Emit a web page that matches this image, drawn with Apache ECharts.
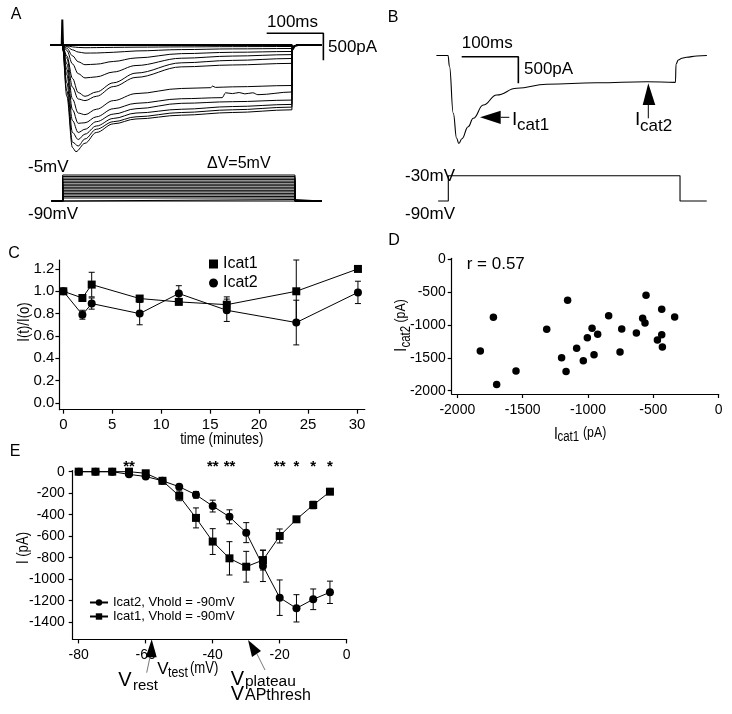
<!DOCTYPE html>
<html>
<head>
<meta charset="utf-8">
<script src="https://cdn.jsdelivr.net/npm/echarts@6/dist/echarts.min.js"></script>
<style>html,body{margin:0;padding:0;background:#fff}#main{width:732px;height:714px}</style>
</head>
<body>
<div id="main"></div>
<script>
// ---- panel A : current family (t in ms from step onset, I in pA) ----
var aLead = [[-21, 0]];
var aTail = [[405.5, -60], [409, -15], [415, 0], [457, 0]];
var aBaseline = [[-21, 0], [-1, 0], [0, 470], [1.5, -100], [3, 0], [405, 0], [406, -90], [410, -20], [416, 0], [457, 0]];
var aTraces = [
  [[0,0],[8,-15],[18,-35],[28,-45],[40,-50],[60,-48],[90,-44],[130,-40],[210,-35],[300,-30],[405,-28]],
  [[0,0],[8,-30],[18,-90],[28,-130],[40,-150],[60,-148],[90,-135],[130,-110],[210,-85],[300,-72],[405,-65]],
  [[0,0],[8,-60],[18,-200],[28,-310],[40,-365],[60,-355],[90,-305],[130,-240],[210,-160],[300,-135],[405,-120]],
  [[0,0],[8,-100],[18,-350],[28,-530],[40,-610],[60,-590],[90,-500],[130,-380],[210,-245],[300,-205],[405,-178]],
  [[0,0],[8,-200],[18,-620],[28,-880],[40,-950],[60,-870],[90,-700],[130,-520],[210,-330],[300,-285],[405,-250]],
  [[0,0],[8,-250],[18,-780],[28,-1000],[40,-1030],[60,-950],[90,-770],[130,-600],[210,-405],[300,-370],[405,-340]],
  [[0,0],[8,-350],[18,-1000],[28,-1260],[40,-1290],[60,-1190],[90,-1030],[130,-900],[210,-805],[262,-790],[265,-760],[270,-785],[300,-775],[405,-750]],
  [[0,0],[8,-450],[18,-1200],[28,-1450],[40,-1440],[60,-1330],[90,-1180],[130,-1080],[210,-995],[282,-975],[288,-885],[300,-900],[312,-880],[322,-905],[336,-885],[345,-920],[405,-870]],
  [[0,0],[8,-550],[18,-1400],[28,-1620],[40,-1560],[60,-1420],[90,-1280],[130,-1180],[210,-1080],[300,-1050],[405,-1020]],
  [[0,0],[8,-700],[18,-1620],[28,-1750],[40,-1650],[60,-1500],[90,-1360],[130,-1260],[210,-1190],[300,-1140],[405,-1100]],
  [[0,0],[8,-850],[18,-1800],[28,-1870],[40,-1740],[60,-1560],[90,-1420],[130,-1330],[210,-1250],[300,-1200],[405,-1150]],
  [[0,0],[8,-950],[18,-1900],[24,-1975],[40,-1820],[60,-1620],[90,-1460],[130,-1370],[210,-1300],[300,-1250],[405,-1200]]
];
var aScaleBar = [[360.5, 217], [460.5, 217], [460.5, -283]];
// voltage protocol A (mV)
var aVSteps = [-90,-85,-80,-75,-70,-65,-60,-55,-50,-45,-40,-35,-30,-25,-20,-15,-10,-5];
var aVOn = 0.7, aVOff = 410.4, aVStart = -18.7, aVEnd = 457.5, aVHold = -90;

// ---- panel B ----
var bTime = [-21, -0.5, 2, 8.8, 14.7, 18.5, 24, 35, 44, 61.7, 85.3, 120.6, 173.5, 261.6, 349.8, 400.5, 401.6, 405.6, 412, 420, 438, 456];
var bCurrent = [0, 0, -200, -1085, -1553, -1650, -1560, -1335, -1178, -929, -741, -615, -540, -510, -491, -503, -160, -84, -50, -34, -9, 0];
var bScaleBar = [[23.6, -22], [123.5, -22], [123.5, -522]];
var bVolt = [[-18, -90], [0, -90], [0, -30], [408.6, -30], [408.6, -90], [455.7, -90]];

// ---- panel C ----
var cTime = [0, 1.95, 2.9, 7.8, 11.8, 16.7, 23.8, 30.1];
var cIcat1 = [1.0, 0.94, 1.06, 0.935, 0.905, 0.88, 1.0, 1.2];
var cIcat1Err = [0, 0.02, 0.11, 0.02, 0.02, 0.07, 0.28, 0.01];
var cIcat2 = [1.0, 0.79, 0.89, 0.80, 0.98, 0.83, 0.72, 0.99];
var cIcat2Err = [0, 0.04, 0.05, 0.10, 0.07, 0.10, 0.20, 0.10];
var cXTicks = [0, 5, 10, 15, 20, 25, 30];
var cYTicks = [0, 0.2, 0.4, 0.6, 0.8, 1.0, 1.2];

// ---- panel D ----
var dIcat1 = [-1824,-1724,-1699,-1551,-1316,-1202,-1168,-1156,-1087,-1036,-1005,-969,-954,-926,-842,-755,-742,-630,-582,-564,-556,-469,-436,-436,-431,-337];
var dIcat2 = [-1396,-883,-1904,-1700,-1066,-1497,-1706,-624,-1355,-1543,-1193,-1051,-1452,-1142,-858,-1411,-1061,-1122,-898,-970,-548,-1228,-761,-1147,-1335,-878];
var dXTicks = [-2000, -1500, -1000, -500, 0];
var dYTicks = [0, -500, -1000, -1500, -2000];

// ---- panel E ----
var eVtest = [-80,-75,-70,-65,-60,-55,-50,-45,-40,-35,-30,-25,-20,-15,-10,-5];
var eIcat1 = [0,0,0,0,-15,-85,-225,-430,-650,-806,-884,-822,-598,-443,-310,-186];
var eIcat1Err = [0,0,0,0,8,10,45,93,120,155,143,93,65,10,35,10];
var eIcat2 = [0,0,0,-25,-45,-85,-140,-215,-320,-420,-567,-877,-1172,-1271,-1187,-1122];
var eIcat2Err = [0,0,0,5,8,10,12,31,55,65,93,145,165,127,96,104];
var eSigX = [-65, -40, -35, -20, -15, -10, -5];
var eSigMark = ['**', '**', '**', '**', '*', '*', '*'];
var eXTicks = [-80, -60, -40, -20, 0];
var eYTicks = [0, -200, -400, -600, -800, -1000, -1200, -1400];

var F = "'Liberation Sans', Arial, sans-serif";
var NARROW = 0.82;   // squeeze for the condensed lettering

function zip(xs, ys) { return xs.map(function (x, i) { return [x, ys[i]]; }); }

function hiddenAxis(gi, min, max) {
  return { gridIndex: gi, type: 'value', min: min, max: max, show: false };
}
function visAxis(gi, min, max, ticks, margin, size, fmt) {
  return {
    gridIndex: gi, type: 'value', min: min, max: max,
    splitLine: { show: false },
    axisLine: { show: true, onZero: false, lineStyle: { color: '#000', width: 1.2 } },
    axisTick: { show: true, length: 4, customValues: ticks, lineStyle: { color: '#000', width: 1.2 } },
    axisLabel: { customValues: ticks, margin: margin, color: '#000', fontSize: size, fontFamily: F, formatter: fmt }
  };
}
function plain(v) { return String(v); }

function errorBars(gi, xs, ys, es, capW) {
  var data = [];
  xs.forEach(function (x, i) { if (es[i] > 0) data.push([x, ys[i] - es[i], ys[i] + es[i]]); });
  return {
    type: 'custom', xAxisIndex: gi, yAxisIndex: gi, data: data, silent: true, z: 1,
    encode: { x: 0, y: [1, 2] },
    renderItem: function (params, api) {
      var lo = api.coord([api.value(0), api.value(1)]);
      var hi = api.coord([api.value(0), api.value(2)]);
      var w = capW / 2, st = { stroke: '#000', lineWidth: 1 };
      return { type: 'group', children: [
        { type: 'line', shape: { x1: lo[0], y1: lo[1], x2: hi[0], y2: hi[1] }, style: st },
        { type: 'line', shape: { x1: lo[0] - w, y1: lo[1], x2: lo[0] + w, y2: lo[1] }, style: st },
        { type: 'line', shape: { x1: hi[0] - w, y1: hi[1], x2: hi[0] + w, y2: hi[1] }, style: st }
      ] };
    }
  };
}

var grids = [
  { left: 50.96, top: 18, width: 277.8, height: 137.7 },
  { left: 50.96, top: 173.5, width: 277.8, height: 30.6 },
  { left: 436.4, top: 28.85, width: 270.5, height: 117.3 },
  { left: 436.4, top: 171.5, width: 270.5, height: 33.7 },
  { left: 59.4, top: 260, width: 305.4, height: 149.7 },
  { left: 451.7, top: 258.3, width: 267, height: 135.7 },
  { left: 72.7, top: 470.6, width: 274, height: 168.8 }
];
grids.forEach(function (g) { g.outerBoundsMode = 'none'; g.containLabel = false; });

var xAxes = [
  hiddenAxis(0, -20, 470), hiddenAxis(1, -20, 470),
  hiddenAxis(2, -21, 456), hiddenAxis(3, -21, 456),
  visAxis(4, -0.4, 30.8, cXTicks, 8, 15, plain),
  visAxis(5, -2043, 0, dXTicks, 9, 14, plain),
  visAxis(6, -81.8, 0, eXTicks, 9, 14, plain)
];
var yAxes = [
  hiddenAxis(0, -2050, 500), hiddenAxis(1, -100, 0),
  hiddenAxis(2, -1700, 500), hiddenAxis(3, -100, -20),
  visAxis(4, -0.06, 1.28, cYTicks, 5, 15, function (v) { return v.toFixed(1); }),
  visAxis(5, -2050, 15, dYTicks, 6, 14, plain),
  visAxis(6, -1560, 10, eYTicks, 8, 14, plain)
];

var series = [];
function trace(gi, data, width, smooth) {
  return { type: 'line', xAxisIndex: gi, yAxisIndex: gi, data: data, symbol: 'none', silent: true,
    smooth: smooth || false, smoothMonotone: 'x', lineStyle: { color: '#000', width: width || 1 } };
}
// A
series.push(trace(0, aBaseline, 2));
aTraces.forEach(function (tr) { series.push(trace(0, aLead.concat(tr, aTail), 1, 0.35)); });
series.push(trace(0, aScaleBar, 1.6));
aVSteps.forEach(function (v) {
  series.push(trace(1, [[aVStart, aVHold], [aVOn, aVHold], [aVOn, v], [aVOff, v], [aVOff, aVHold], [aVEnd, aVHold]], 1));
});
// B
series.push(trace(2, zip(bTime, bCurrent), 1.1, 0.45));
series.push(trace(2, bScaleBar, 1.6));
series.push(trace(3, bVolt, 1.1));
// C
series.push(errorBars(4, cTime, cIcat1, cIcat1Err, 6));
series.push(errorBars(4, cTime, cIcat2, cIcat2Err, 6));
series.push({ name: 'Icat1', type: 'line', xAxisIndex: 4, yAxisIndex: 4, data: zip(cTime, cIcat1),
  symbol: 'rect', symbolSize: 8, itemStyle: { color: '#000' }, lineStyle: { color: '#000', width: 1 } });
series.push({ name: 'Icat2', type: 'line', xAxisIndex: 4, yAxisIndex: 4, data: zip(cTime, cIcat2),
  symbol: 'circle', symbolSize: 8, itemStyle: { color: '#000' }, lineStyle: { color: '#000', width: 1 } });
// D
series.push({ type: 'scatter', xAxisIndex: 5, yAxisIndex: 5, data: zip(dIcat1, dIcat2),
  symbol: 'circle', symbolSize: 7.5, itemStyle: { color: '#000', opacity: 1 } });
// E
series.push(errorBars(6, eVtest, eIcat2, eIcat2Err, 6));
series.push(errorBars(6, eVtest, eIcat1, eIcat1Err, 6));
series.push({ name: 'Icat2, Vhold = -90mV', type: 'line', xAxisIndex: 6, yAxisIndex: 6, data: zip(eVtest, eIcat2),
  symbol: 'circle', symbolSize: 8, itemStyle: { color: '#000' }, lineStyle: { color: '#000', width: 1 } });
series.push({ name: 'Icat1, Vhold = -90mV', type: 'line', xAxisIndex: 6, yAxisIndex: 6, data: zip(eVtest, eIcat1),
  symbol: 'rect', symbolSize: 8, itemStyle: { color: '#000' }, lineStyle: { color: '#000', width: 1 } });
series.push({ type: 'scatter', xAxisIndex: 6, yAxisIndex: 6, clip: false, symbolSize: 0, silent: true,
  itemStyle: { opacity: 1 },
  data: eSigX.map(function (x, i) { return { value: [x, 45], label: { formatter: eSigMark[i] } }; }),
  label: { show: true, position: 'inside', fontSize: 15, fontWeight: 'bold', color: '#000', opacity: 1, fontFamily: F } });

// texts and arrows
function T(x, y, s, size, o) {
  o = o || {};
  var el = { type: 'text', x: x, y: y, z: 100, silent: true,
    style: { text: s, fill: '#000', fontSize: size, fontFamily: F,
      align: o.align || 'left', verticalAlign: 'middle' } };
  if (o.rot) el.rotation = o.rot;
  if (o.narrow) el.scaleX = NARROW;
  return el;
}
function tri(pts) { return { type: 'polygon', z: 100, silent: true, shape: { points: pts }, style: { fill: '#000' } }; }
function seg(x1, y1, x2, y2, c, w) {
  return { type: 'line', z: 100, silent: true, shape: { x1: x1, y1: y1, x2: x2, y2: y2 }, style: { stroke: c || '#000', lineWidth: w || 1 } };
}
var R = Math.PI / 2;
var graphics = [
  T(16, 15, 'A', 16, { align: 'center' }), T(393, 18, 'B', 16, { align: 'center' }),
  T(14, 254, 'C', 16, { align: 'center' }), T(394, 241, 'D', 16, { align: 'center' }),
  T(15, 452, 'E', 16, { align: 'center' }),
  T(267, 22, '100ms', 17), T(328, 47, '500pA', 17),
  T(28, 167.5, '-5mV', 17), T(28, 214, '-90mV', 17), T(207, 164, '\u0394V=5mV', 16),
  T(461.7, 43, '100ms', 17), T(524, 69, '500pA', 17),
  T(405, 176, '-30mV', 17), T(405, 214, '-90mV', 17),
  tri([[480, 117.3], [500.7, 110.7], [500.7, 124]]), seg(500.7, 117.3, 509.3, 117.3),
  T(512, 119.7, 'I', 19), T(517, 125.3, 'cat1', 17),
  tri([[648.3, 83.3], [642.7, 105], [655.3, 105]]), seg(648.3, 105, 648.3, 118.3),
  T(635, 119.5, 'I', 19), T(640, 126.7, 'cat2', 17),
  T(466.7, 264, 'r = 0.57', 17),
  T(25, 322, 'I(t)/I(o)', 16, { align: 'center', rot: R, narrow: true }),
  T(221.7, 440, 'time (minutes)', 16, { align: 'center', narrow: true }),
  T(401, 351.7, 'I', 17, { rot: R, narrow: true }), T(406.5, 347.5, 'cat2', 14, { rot: R, narrow: true }),
  T(401, 322.5, '(pA)', 15, { rot: R, narrow: true }),
  T(554, 434, 'I', 17, { narrow: true }), T(557.5, 437, 'cat1', 14, { narrow: true }),
  T(583, 433.3, '(pA)', 15, { narrow: true }),
  T(24, 548, 'I (pA)', 16, { align: 'center', rot: R, narrow: true }),
  T(163, 669, 'V', 17, { align: 'center' }), T(168, 673.3, 'test', 15, { narrow: true }),
  T(190, 668.3, '(mV)', 16, { narrow: true }),
  tri([[151.7, 639.3], [145.7, 657.3], [156.7, 657.3]]), seg(150, 657, 146.7, 672.7, '#555', 0.8),
  T(125, 680.5, 'V', 20, { align: 'center' }), T(133, 686, 'rest', 15),
  tri([[248, 640], [261, 651], [252, 657]]), seg(257, 654, 265, 670, '#555', 0.8),
  T(237.5, 679.5, 'V', 20, { align: 'center' }), T(245, 682, 'plateau', 15.5),
  T(237.5, 694.5, 'V', 20, { align: 'center' }), T(245, 695.5, 'APthresh', 16)
];

var chart = echarts.init(document.getElementById('main'));
chart.setOption({
  animation: false,
  backgroundColor: '#fff',
  grid: grids,
  xAxis: xAxes,
  yAxis: yAxes,
  legend: [
    { data: [{ name: 'Icat1', icon: 'rect' }, { name: 'Icat2', icon: 'circle' }],
      orient: 'vertical', left: 204, top: 251, itemWidth: 9, itemHeight: 9, itemGap: 3, selectedMode: false,
      textStyle: { fontSize: 16, fontFamily: F, color: '#000' } },
    { data: ['Icat2, Vhold = -90mV', 'Icat1, Vhold = -90mV'],
      orient: 'vertical', left: 84, top: 591, itemWidth: 18, itemHeight: 8, itemGap: 1, selectedMode: false,
      textStyle: { fontSize: 13, fontFamily: F, color: '#000' } }
  ],
  series: series,
  graphic: graphics
});
</script>
</body>
</html>
